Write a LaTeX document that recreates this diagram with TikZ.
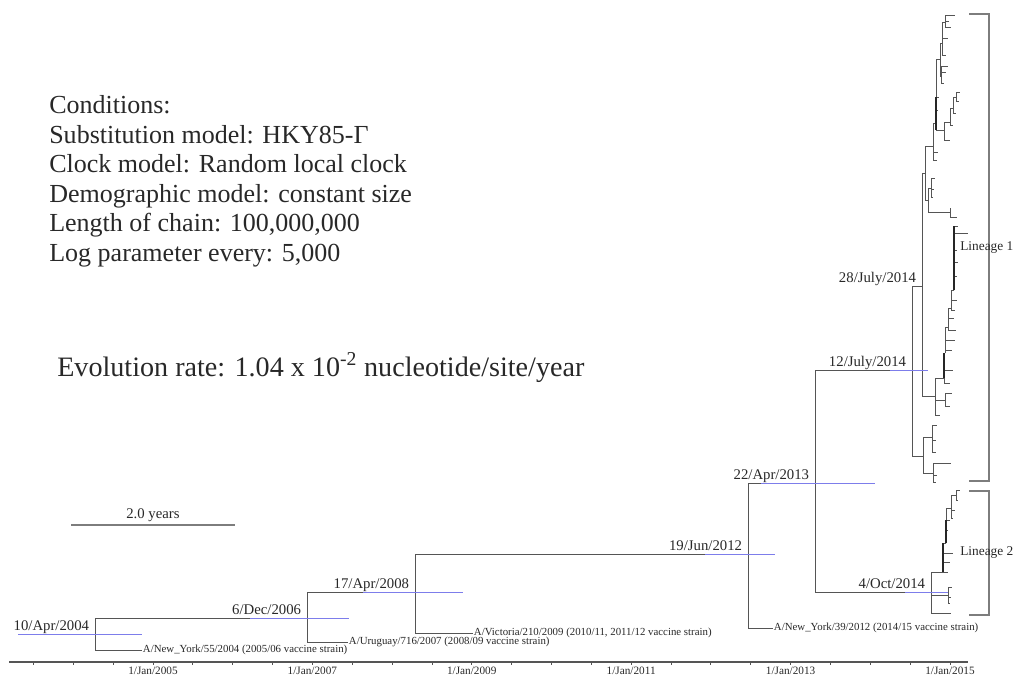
\documentclass[tikz,border=0pt]{standalone}
\usepackage{fontspec}
\setmainfont{Liberation Serif}
\usetikzlibrary{positioning}
\definecolor{TreeGrey}{RGB}{85,85,85}
\definecolor{HpdBlue}{RGB}{125,125,235}
\definecolor{BracketGrey}{RGB}{125,125,125}
\definecolor{TextGrey}{RGB}{40,40,40}
\tikzset{
    branch/.style={draw=TreeGrey, line width=0.7pt},
    densebranch/.style={draw=black!85, line width=1.1pt},
    hpd/.style={draw=HpdBlue, line width=0.6pt},
    bracket/.style={draw=BracketGrey, line width=1.2pt},
    datelabel/.style={anchor=base east, inner sep=0pt, xshift=-4pt, yshift=2.5pt,
        font=\fontsize{10.5}{12}\selectfont, text=TextGrey},
    tiplabel/.style={anchor=west, inner sep=0.5pt, font=\fontsize{7.7}{8}\selectfont, text=TextGrey}
}

\begin{document}
\begin{tikzpicture}[
        x=0.025cm, y=-0.025cm,
        % axis and legend styles
        axisline/.style={draw=TreeGrey, line width=0.9pt},
        axislabel/.style={anchor=north, inner sep=0pt, font=\fontsize{8}{9}\selectfont, text=TextGrey},
        infotext/.style={anchor=north west, inner sep=0pt, align=left, text=TextGrey,
            font=\fontsize{18.5}{21}\selectfont},
        ratetext/.style={anchor=base west, inner sep=0pt, text=TextGrey, font=\fontsize{20}{22}\selectfont},
        lineagelabel/.style={anchor=west, inner sep=0pt,
            font=\fontsize{9.5}{10}\selectfont, text=TextGrey}
    ]
    \useasboundingbox (0,0) rectangle (1018,679);

    % --- RUN CONDITIONS ---
    \node[infotext] (cond) at (49,95.5) {Conditions:\\
        Substitution model: HKY85-Γ\\
        Clock model: Random local clock\\
        Demographic model: constant size\\
        Length of chain: 100,000,000\\
        Log parameter every: 5,000};
    \node[ratetext] (rate) at (57,376) {Evolution rate: 1.04 x 10\textsuperscript{-2} nucleotide/site/year};

    % --- SCALE BAR ---
    \coordinate (sbL) at (71,525);
    \coordinate (sbR) at (235,525);
    \draw[draw=BracketGrey, line width=0.9pt] (sbL) -- node[above=2pt, inner sep=0pt, font=\fontsize{10.5}{11}\selectfont, text=TextGrey] (sblabel) {2.0 years} (sbR);

    % --- BACKBONE NODES ---
    \coordinate (stub)   at (86,634);
    \coordinate (root)   at (95,634);
    \coordinate (n06)    at (307,618);
    \coordinate (tNY04)  at (142,650);
    \coordinate (n08)    at (415,592);
    \coordinate (tUR07)  at (348,642);
    \coordinate (n12)    at (748,554);
    \coordinate (tVI09)  at (473,633);
    \coordinate (n13)    at (815,483);
    \coordinate (tNY12)  at (773,628);
    \coordinate (nJul12) at (912,370);
    \coordinate (nOct)   at (931,592);

    % backbone branches
    \draw[branch] (stub) -- (root);
    \draw[branch] (root) |- (n06);
    \draw[branch] (root) |- (tNY04);
    \draw[branch] (n06) |- (n08);
    \draw[branch] (n06) |- (tUR07);
    \draw[branch] (n08) |- (n12);
    \draw[branch] (n08) |- (tVI09);
    \draw[branch] (n12) |- (n13);
    \draw[branch] (n12) |- (tNY12);
    \draw[branch] (n13) |- (nJul12);
    \draw[branch] (n13) |- (nOct);

    % --- LINEAGE CLADES (name/parent/x/y) ---
    \foreach \c/\p/\x/\y in {
        nJul28/nJul12/922/286, q1/nJul12/923/456,
        p1/nJul28/925/173, m1/nJul28/935/396,
        p2/p1/933/146, p3/p1/928/200,
        p4/p2/936/123, t1/p2/938/152, t2/p2/937/160,
        p5/p4/940/59, p6/p4/944/130, t3/p4/939/97, t4/p4/938/110,
        p7/p5/942/43, p8/p5/941/76,
        p9/p7/945/22, t5/p7/948/38, t6/p7/946/55,
        t7/p9/955/15, t8/p9/951/27, t9/p9/949/21,
        t10/p8/948/66, t11/p8/946/72, t12/p8/944/83,
        p10/p6/950/122, t13/p6/950/140,
        p11/p10/953/108, t14/p10/953/125,
        p12/p11/956/97, t15/p11/956/113,
        t16/p12/960/92, t17/p12/959/101,
        p13/p3/931/188, p14/p3/950/212,
        t18/p13/935/178, t19/p13/934/189, t20/p13/933/197,
        t21/p14/957/217, t22/p14/951/208,
        m2/m1/944/378, m7/m1/945/400, t23/m1/940/415,
        m3/m2/945/353, t24/m2/953/370, t25/m2/950/383,
        m4/m3/948/327, t26/m3/955/340, t27/m3/952/350,
        m5/m4/951/308, t28/m4/954/318, t29/m4/956/330,
        m6/m5/954/290, t30/m5/957/300, t31/m5/955/310,
        t32/m6/968/233, t33/m6/958/226, t34/m6/957/250, t35/m6/958/262, t36/m6/957/276,
        t37/m7/952/393, t38/m7/950/406,
        q2/q1/932/437, q3/q1/933/473,
        t39/q2/937/425, t40/q2/936/440, t41/q2/936/452,
        t42/q3/951/463, t43/q3/937/475, t44/q3/936/482,
        l1/nOct/943/572, l9/nOct/948/595, t45/nOct/951/613,
        l2/l1/946/543, t46/l1/953/553, t47/l1/950/562, t48/l1/948/572,
        l3/l2/951/508, t49/l2/950/520, t50/l2/948/530, t51/l2/947/540,
        l4/l3/956/495, t52/l3/955/510, t53/l3/953/518,
        t54/l4/960/490, t55/l4/958/500,
        t56/l9/952/587, t57/l9/951/597, t58/l9/950/603}
    {
        \coordinate (\c) at (\x,\y);
        \draw[branch] (\p) |- (\c);
    }

    % crowded stretches of the clades
    \draw[densebranch] (p4 |- t3) -- (p4 |- p6);
    \draw[densebranch] (m6 |- t33) -- (m6);
    \draw[densebranch] (m2 |- m3) -- (m2);
    \draw[densebranch] (l1 |- l2) -- (l1);
    \draw[densebranch] (l2 |- t49) -- (l2);

    % HPD bars (over the branches)
    \draw[hpd] (root)   ++(-77,0) -- ++(124,0);
    \draw[hpd] (n06)    ++(-57,0) -- ++(99,0);
    \draw[hpd] (n08)    ++(-52,0) -- ++(100,0);
    \draw[hpd] (n12)    ++(-43,0) -- ++(70,0);
    \draw[hpd] (n13)    ++(-54,0) -- ++(114,0);
    \draw[hpd] (nJul12) ++(-22,0) -- ++(38,0);
    \draw[hpd] (nOct)   ++(-26,0) -- ++(43,0);

    % --- NODE DATES ---
    \node[datelabel] (dRoot) at (root)   {10/Apr/2004};
    \node[datelabel] (d06)   at (n06)    {6/Dec/2006};
    \node[datelabel] (d08)   at (n08)    {17/Apr/2008};
    \node[datelabel] (d12)   at (n12)    {19/Jun/2012};
    \node[datelabel] (d13)   at (n13)    {22/Apr/2013};
    \node[datelabel] (dJul12) at (nJul12) {12/July/2014};
    \node[datelabel] (dJul28) at (nJul28) {28/July/2014};
    \node[datelabel] (dOct)  at (nOct)   {4/Oct/2014};

    % --- TIP LABELS ---
    \node[tiplabel] (lNY04) at (tNY04) {A/New\_York/55/2004 (2005/06 vaccine strain)};
    \node[tiplabel] (lUR07) at (tUR07) {A/Uruguay/716/2007 (2008/09 vaccine strain)};
    \node[tiplabel] (lVI09) at (tVI09) {A/Victoria/210/2009 (2010/11, 2011/12 vaccine strain)};
    \node[tiplabel] (lNY12) at (tNY12) {A/New\_York/39/2012 (2014/15 vaccine strain)};

    % --- LINEAGE BRACKETS ---
    \draw[bracket] (969,14) -| (989,481) -- (969,481);
    \draw[bracket] (969,491) -| (989,615) -- (969,615);
    \node[lineagelabel] (lin1) at (960,248) {Lineage 1};
    \node[lineagelabel] (lin2) at (960,553) {Lineage 2};

    % --- TIME AXIS ---
    \coordinate (axL) at (9,662);
    \coordinate (axR) at (968,662);
    \draw[axisline] (axL) -- (axR);
    \foreach \k in {0,...,23}
        \draw[axisline, line width=0.6pt] (33.45+39.85*\k,662) -- ++(0,3);
    \foreach \yr in {2005,2007,...,2015}
        \node[axislabel] at ({153+79.7*(\yr-2005)},667) {1/Jan/\yr};

\end{tikzpicture}
\end{document}
